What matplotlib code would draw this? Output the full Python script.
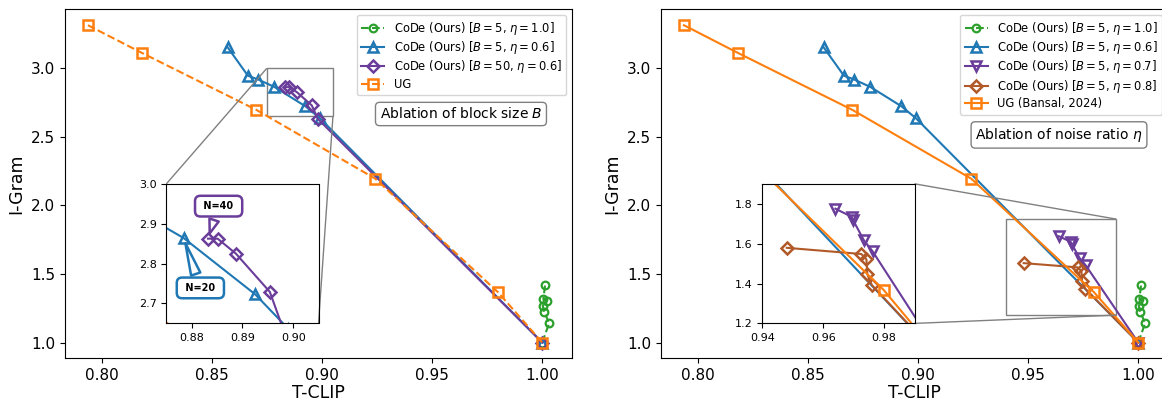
import matplotlib
matplotlib.use("Agg")
import matplotlib.pyplot as plt
from mpl_toolkits.axes_grid1.inset_locator import mark_inset

# --- data -------------------------------------------------------------------

tclip_ug = [0.7938, 0.8183, 0.8703, 0.9242, 0.9799, 1.0]
igram_ug = [3.314, 3.112, 2.696, 2.195, 1.367, 1.0]

tclip_b5_e10 = [1.0, 1.0031, 1.0009, 1.0002, 1.0020, 1.0005, 1.0013]
igram_b5_e10 = [1.0, 1.140, 1.226, 1.268, 1.306, 1.316, 1.422]

tclip_b5_e06 = [0.8572, 0.8664, 0.8712, 0.8784, 0.8925, 0.8990, 1.0]
igram_b5_e06 = [3.153, 2.946, 2.917, 2.864, 2.723, 2.637, 1.0]

tclip_b50_e06 = [0.8832, 0.8851, 0.8887, 0.8954, 0.8982, 1.0]
igram_b50_e06 = [2.8625, 2.8625, 2.825, 2.729, 2.630, 1.0]

tclip_b5_e07 = [0.9640, 0.9693, 0.9698, 0.9734, 0.9762, 1.0]
igram_b5_e07 = [1.775, 1.735, 1.718, 1.616, 1.562, 1.0]

tclip_b5_e08 = [0.9480, 0.9725, 0.9742, 0.9745, 0.9760, 1.0]
igram_b5_e08 = [1.579, 1.548, 1.521, 1.446, 1.392, 1.0]

GREEN, BLUE, ORANGE = "#2ca02c", "#1f77b4", "#ff7f0e"
PURPLE, BROWN = "#6a3d9a", "#b15928"

W, H = 1162, 404
MK = dict(mfc="none", mew=1.8, lw=1.5)


def draw_left(ax):
    ax.plot(tclip_b5_e10, igram_b5_e10, "--o", color=GREEN, ms=5.5, mew=1.6, lw=1.5,
            mfc="none", label=r"CoDe (Ours) [$B=5$, $\eta=1.0$]")
    ax.plot(tclip_b5_e06, igram_b5_e06, "-^", color=BLUE, ms=7.5, **MK,
            label=r"CoDe (Ours) [$B=5$, $\eta=0.6$]")
    ax.plot(tclip_b50_e06, igram_b50_e06, "-D", color=PURPLE, ms=6.5, **MK,
            label=r"CoDe (Ours) [$B=50$, $\eta=0.6$]")
    ax.plot(tclip_ug, igram_ug, "--s", color=ORANGE, ms=6.5, **MK, label="UG")


def draw_right(ax):
    ax.plot(tclip_b5_e10, igram_b5_e10, "--o", color=GREEN, ms=5.5, mew=1.6, lw=1.5,
            mfc="none", label=r"CoDe (Ours) [$B=5$, $\eta=1.0$]")
    ax.plot(tclip_b5_e06, igram_b5_e06, "-^", color=BLUE, ms=7.5, **MK,
            label=r"CoDe (Ours) [$B=5$, $\eta=0.6$]")
    ax.plot(tclip_b5_e07, igram_b5_e07, "-v", color=PURPLE, ms=7.5, **MK,
            label=r"CoDe (Ours) [$B=5$, $\eta=0.7$]")
    ax.plot(tclip_b5_e08, igram_b5_e08, "-D", color=BROWN, ms=6.5, **MK,
            label=r"CoDe (Ours) [$B=5$, $\eta=0.8$]")
    ax.plot(tclip_ug, igram_ug, "-s", color=ORANGE, ms=6.5, **MK,
            label="UG (Bansal, 2024)")


def style_main(ax):
    ax.set_xlim(0.7834, 1.0135)
    ax.set_ylim(0.885, 3.43)
    ax.set_xticks([0.80, 0.85, 0.90, 0.95, 1.00])
    ax.set_yticks([1.0, 1.5, 2.0, 2.5, 3.0])
    ax.tick_params(labelsize=11)
    ax.set_xlabel("T-CLIP", fontsize=12.5, labelpad=1)
    ax.set_ylabel("I-Gram", fontsize=12.5)
    ax.legend(loc="upper right", fontsize=8.3, labelspacing=0.2,
              handlelength=2.0, borderpad=0.4)


def callout(ax, text, xy, xytext, color):
    # speech-bubble style label pointing at one marker
    ax.annotate(text, xy=xy, xytext=xytext,
                fontsize=7, fontweight="bold", ha="center", va="center",
                bbox=dict(boxstyle="round,pad=0.55", fc="white", ec=color, lw=1.8),
                arrowprops=dict(arrowstyle="wedge,tail_width=1.0", fc="white",
                                ec=color, lw=1.8, shrinkB=4))


fig = plt.figure(figsize=(W / 100, H / 100), dpi=100)
ax1 = fig.add_axes([65 / W, (H - 358.3) / H, 507 / W, 349 / H])
ax2 = fig.add_axes([661 / W, (H - 358.3) / H, 507 / W, 349 / H])

# --- left: block size ablation ---
draw_left(ax1)
style_main(ax1)
ax1.text(0.781, 0.70, r"Ablation of block size $B$", transform=ax1.transAxes,
         ha="center", va="center", fontsize=10,
         bbox=dict(boxstyle="round,pad=0.3", fc="white", ec="0.5"))

ins1 = ax1.inset_axes([0.2, 0.1, 0.3, 0.4])
draw_left(ins1)
ins1.set_xlim(0.875, 0.905)
ins1.set_ylim(2.65, 3.0)
ins1.set_xticks([0.88, 0.89, 0.90])
ins1.set_yticks([2.7, 2.8, 2.9, 3.0])
ins1.tick_params(labelsize=8)
mark_inset(ax1, ins1, loc1=2, loc2=4, fc="none", ec="0.5", lw=1)

callout(ins1, " N=40 ", (tclip_b50_e06[0], igram_b50_e06[0]), (0.8853, 2.944), PURPLE)
callout(ins1, " N=20 ", (tclip_b5_e06[3], igram_b5_e06[3]), (0.8817, 2.739), BLUE)

# --- right: noise ratio ablation ---
draw_right(ax2)
style_main(ax2)
ax2.text(0.785, 0.64, r"Ablation of noise ratio $\eta$", transform=ax2.transAxes,
         ha="center", va="center", fontsize=10,
         bbox=dict(boxstyle="round,pad=0.3", fc="white", ec="0.5"))

ins2 = ax2.inset_axes([0.2, 0.1, 0.3, 0.4])
draw_right(ins2)
ins2.set_xlim(0.94, 0.99)
ins2.set_ylim(1.2, 1.9)
ins2.set_xticks([0.94, 0.96, 0.98])
ins2.set_yticks([1.2, 1.4, 1.6, 1.8])
ins2.tick_params(labelsize=8)
mark_inset(ax2, ins2, loc1=1, loc2=4, fc="none", ec="0.5", lw=1)

fig.savefig("out.png", dpi=100)
